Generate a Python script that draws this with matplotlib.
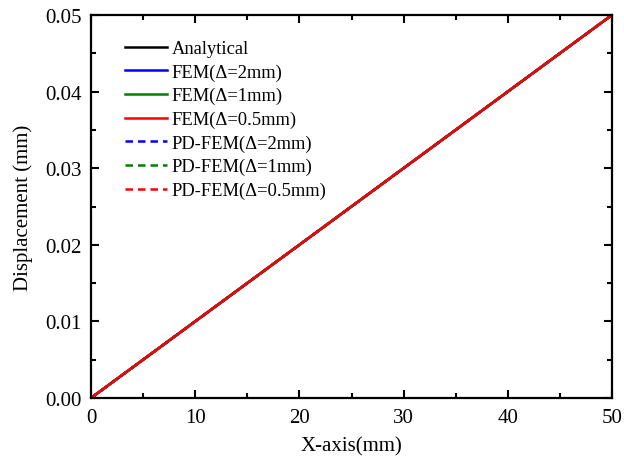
import matplotlib
matplotlib.use('Agg')
import matplotlib.pyplot as plt
from matplotlib.ticker import MultipleLocator

plt.rcParams['font.family'] = ['Liberation Serif', 'DejaVu Serif']

# displacement along the bar, endpoints of each solution
x_analytical = [0, 50]
u_analytical = [0.0, 0.05]
x_fem = [0, 50]
u_fem_2 = [0.0, 0.05]
u_fem_1 = [0.0, 0.05]
u_fem_05 = [0.0, 0.05]
u_pdfem_2 = [0.0, 0.05]
u_pdfem_1 = [0.0, 0.05]
u_pdfem_05 = [0.0, 0.05]

fig = plt.figure(figsize=(6.24, 4.64), dpi=100)
ax = fig.add_axes([91 / 624, 1 - 399 / 464, (612 - 91) / 624, (399 - 16) / 464])

ax.plot(x_analytical, u_analytical, color='black', lw=1.8, label='Analytical')
ax.plot(x_fem, u_fem_2, color='blue', lw=1.8, label='FEM(Δ=2mm)')
ax.plot(x_fem, u_fem_1, color='green', lw=1.8, label='FEM(Δ=1mm)')
ax.plot(x_fem, u_fem_05, color='red', lw=1.8, label='FEM(Δ=0.5mm)')
ax.plot(x_fem, u_pdfem_2, color='blue', lw=1.8, ls=(0, (3, 2)), label='PD-FEM(Δ=2mm)')
ax.plot(x_fem, u_pdfem_1, color='green', lw=1.8, ls=(0, (3, 2)), label='PD-FEM(Δ=1mm)')
ax.plot(x_fem, u_pdfem_05, color='red', lw=1.8, ls=(0, (3, 2)), label='PD-FEM(Δ=0.5mm)')

ax.set_xlim(0, 50)
ax.set_ylim(0, 0.05)
ax.xaxis.set_major_locator(MultipleLocator(10))
ax.xaxis.set_minor_locator(MultipleLocator(5))
ax.yaxis.set_major_locator(MultipleLocator(0.01))
ax.yaxis.set_minor_locator(MultipleLocator(0.005))
ax.yaxis.set_major_formatter(plt.FormatStrFormatter('%.2f'))

ax.tick_params(which='both', direction='in', top=True, right=True, width=1.5, labelsize=15)
ax.tick_params(which='major', length=6)
ax.tick_params(which='minor', length=3.5)
ax.tick_params(axis='x', which='major', pad=7.5)
ax.tick_params(axis='y', which='major', pad=6.5)
for s in ax.spines.values():
    s.set_linewidth(1.6)

ax.set_xlabel('X-axis(mm)', fontsize=15, labelpad=6)
ax.set_ylabel('Displacement (mm)', fontsize=15, labelpad=9)

ax.legend(loc='upper left', frameon=False, fontsize=13.3, handlelength=2.27,
          handletextpad=0.27, labelspacing=0.345, borderaxespad=0,
          bbox_to_anchor=(0.051, 0.954))

fig.savefig('out.png', dpi=100)
